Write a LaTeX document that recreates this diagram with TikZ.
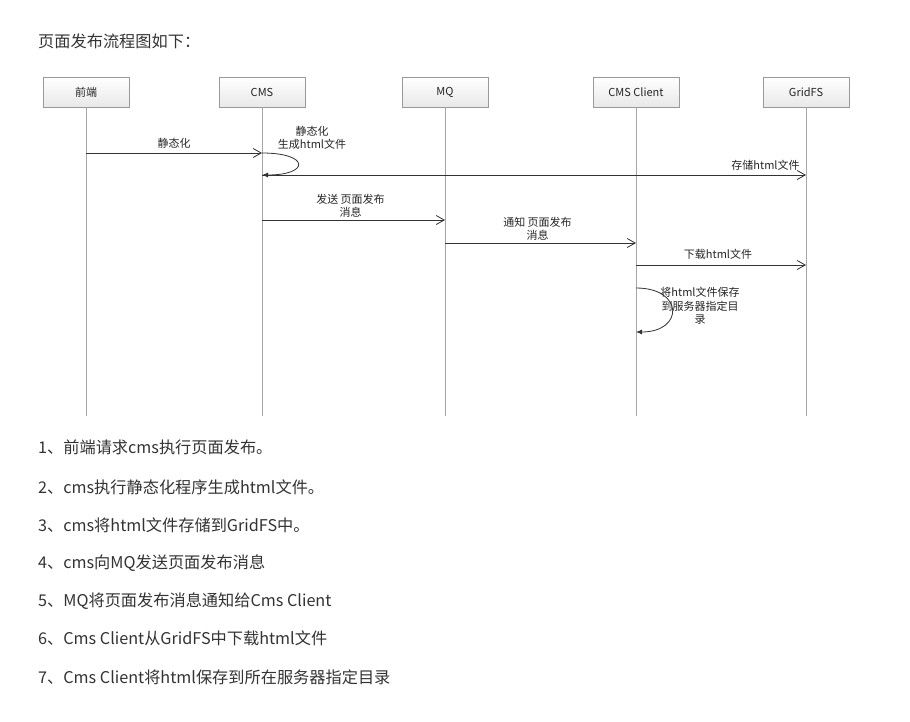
\documentclass[tikz,border=0pt]{standalone}
\usepackage{fontspec}
\setmainfont{Noto Sans CJK SC}
\usetikzlibrary{arrows.meta, positioning}

\begin{document}
\begin{tikzpicture}[
    x=1pt, y=-1pt,
    actor/.style={
        rectangle, draw=black!40,
        top color=white, bottom color=black!9,
        minimum width=86pt, minimum height=30pt,
        inner sep=0pt,
        font=\fontsize{11}{12}\selectfont, text=black!85
    },
    lifeline/.style={draw=black!35, line width=0.8pt},
    msg/.style={draw=black!80, line width=0.8pt, -{Straight Barb[length=8pt,width=9pt]}},
    selfmsg/.style={draw=black!80, line width=0.8pt, -{Latex[length=6pt,width=5pt]}},
    msglabel/.style={font=\fontsize{11}{13.5}\selectfont, align=center, text=black!85, inner sep=1pt},
    heading/.style={font=\fontsize{16.2}{18}\selectfont, text=black!80, anchor=west, inner sep=0pt},
    stepline/.style={heading}
]

% ============ Page ============
\fill[white] (0,0) rectangle (910,721);
\useasboundingbox (0,0) rectangle (910,721);

\node[heading] (title) at (38,41) {页面发布流程图如下：};

% ============ Participants ============
\node[actor] (fe) at (86,92) {前端};
\node[actor] (cms) at (262,92) {CMS};
\node[actor] (mq) at (445,92) {MQ};
\node[actor] (client) at (636,92) {CMS Client};
\node[actor] (gridfs) at (806,92) {GridFS};

% ============ Lifelines ============
\foreach \p in {fe, cms, mq, client, gridfs} {
    \coordinate (\p-end) at (\p.south |- 0,416);
    \draw[lifeline] (\p.south) -- (\p-end);
}

% ============ Message points ============
\coordinate (fe-m1) at (fe.south |- 0,153);
\coordinate (cms-m1) at (cms.south |- 0,153);
\coordinate (cms-m3) at (cms.south |- 0,175);
\coordinate (gridfs-m3) at (gridfs.south |- 0,175);
\coordinate (cms-m4) at (cms.south |- 0,220);
\coordinate (mq-m4) at (mq.south |- 0,220);
\coordinate (mq-m5) at (mq.south |- 0,243);
\coordinate (client-m5) at (client.south |- 0,243);
\coordinate (client-m6) at (client.south |- 0,265);
\coordinate (gridfs-m6) at (gridfs.south |- 0,265);
\coordinate (client-m7a) at (client.south |- 0,288);
\coordinate (client-m7b) at (client.south |- 0,332);

% ============ Messages ============
\draw[msg] (fe-m1) -- node[midway, above=3pt, msglabel] {静态化} (cms-m1);
\draw[selfmsg] (cms-m1) .. controls +(48,0) and +(48,0) .. (cms-m3);
\node[msglabel] (staticlbl) at (312,138) {静态化\\生成html文件};
\draw[msg] (cms-m3) -- node[at end, above left=3pt and 5pt, msglabel] {存储html文件} (gridfs-m3);
\draw[msg] (cms-m4) -- node[midway, above=1pt, xshift=-3pt, msglabel] {发送 页面发布\\消息} (mq-m4);
\draw[msg] (mq-m5) -- node[midway, above=1pt, xshift=-3pt, msglabel] {通知 页面发布\\消息} (client-m5);
\draw[msg] (client-m6) -- node[midway, above=4pt, xshift=-3pt, msglabel] {下载html文件} (gridfs-m6);
\draw[selfmsg] (client-m7a) .. controls +(48,0) and +(48,0) .. (client-m7b);
\node[msglabel] (savelbl) at (700,306) {将html文件保存\\到服务器指定目\\录};

% ============ Steps ============
\node[stepline] (s1) at (38,447) {1、前端请求cms执行页面发布。};
\node[stepline] (s2) at (38,487) {2、cms执行静态化程序生成html文件。};
\node[stepline] (s3) at (38,525) {3、cms将html文件存储到GridFS中。};
\node[stepline] (s4) at (38,563) {4、cms向MQ发送页面发布消息};
\node[stepline] (s5) at (38,601) {5、MQ将页面发布消息通知给Cms Client};
\node[stepline] (s6) at (38,638) {6、Cms Client从GridFS中下载html文件};
\node[stepline] (s7) at (38,677) {7、Cms Client将html保存到所在服务器指定目录};

\end{tikzpicture}
\end{document}
